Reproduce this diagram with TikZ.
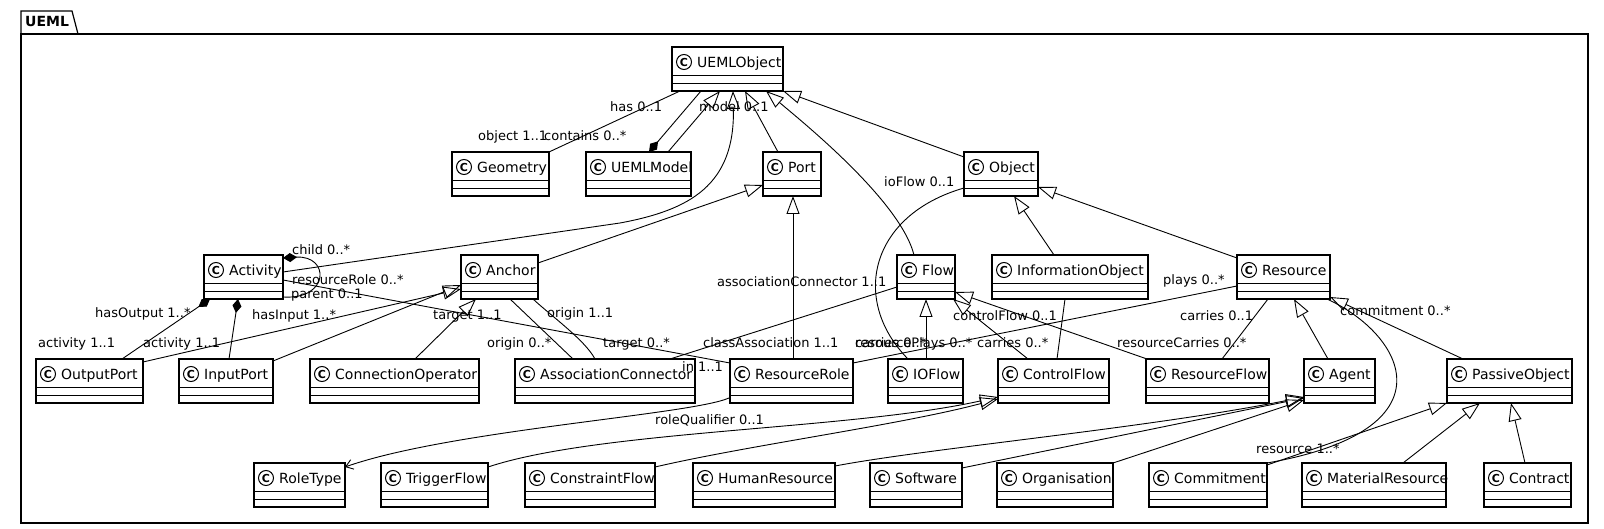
\documentclass[tikz,border=0pt]{standalone}
\usepackage{fontspec}
\setmainfont{DejaVu Sans}
\usetikzlibrary{arrows.meta,calc}
\newcommand{\umlclass}[5]{%
  \node[clsbox, minimum width={(#4-#2)*1pt}] (#1) at (#2,#3) {};
  \draw[clsline] ($(#1.north west)+(0,28.5)$) -- ($(#1.north east)+(0,28.5)$);
  \draw[clsline] ($(#1.north west)+(0,36.5)$) -- ($(#1.north east)+(0,36.5)$);
  \node[spot] (#1-spot) at ($(#1.north west)+(12,15)$) {C};
  \node[clsname] (#1-name) at ($(#1.north west)+(25,20.5)$) {#5};
}
\begin{document}
\begin{tikzpicture}[x=1pt,y=-1pt,
  clsbox/.style={draw, line width=1.2pt, minimum height=44pt, inner sep=0pt, outer sep=0pt, anchor=north west, fill=white},
  clsline/.style={line width=1.2pt},
  spot/.style={circle, draw, fill=white, line width=1pt, minimum size=15pt, inner sep=0pt, font=\fontsize{11}{11}\selectfont\bfseries},
  clsname/.style={anchor=base west, inner sep=0pt, font=\fontsize{14}{16}\selectfont},
  lbl/.style={anchor=base west, inner sep=0pt, font=\fontsize{13}{15}\selectfont},
  conn/.style={line width=0.9pt},
  assoc/.style={conn},
  gen/.style={conn, -{Triangle[open,length=18pt,width=13pt]}},
  comp/.style={conn, {Diamond[length=14pt,width=9pt]}-},
  nav/.style={conn, -{Straight Barb[length=7pt,width=10pt]}}
]
\fill[white] (0,0) rectangle (1604,529);
\useasboundingbox (0,0) rectangle (1604,529);
% package frame
\draw[line width=1.2pt] (21,34) rectangle (1588,523);
\draw[line width=1.2pt] (21,34) -- (21,11) -- (72,11) -- (78,34);
\node[anchor=base west, inner sep=0pt, font=\fontsize{14}{16}\selectfont\bfseries] (pkg) at (25,27) {UEML};

% classes
\umlclass{UEMLObject}{672}{47}{783}{UEMLObject}
\umlclass{Geometry}{452}{152}{549}{Geometry}
\umlclass{UEMLModel}{586}{152}{691}{UEMLModel}
\umlclass{Port}{763}{152}{821}{Port}
\umlclass{Object}{964}{152}{1038}{Object}
\umlclass{Activity}{204}{255}{283}{Activity}
\umlclass{Anchor}{461}{255}{538}{Anchor}
\umlclass{Flow}{897}{255}{955}{Flow}
\umlclass{InformationObject}{992}{255}{1148}{InformationObject}
\umlclass{Resource}{1237}{255}{1330}{Resource}
\umlclass{OutputPort}{36}{359}{143}{OutputPort}
\umlclass{InputPort}{179}{359}{273}{InputPort}
\umlclass{ConnectionOperator}{310}{359}{479}{ConnectionOperator}
\umlclass{AssociationConnector}{515}{359}{695}{AssociationConnector}
\umlclass{ResourceRole}{730}{359}{853}{ResourceRole}
\umlclass{IOFlow}{888}{359}{963}{IOFlow}
\umlclass{ControlFlow}{998}{359}{1109}{ControlFlow}
\umlclass{ResourceFlow}{1146}{359}{1269}{ResourceFlow}
\umlclass{Agent}{1304}{359}{1375}{Agent}
\umlclass{PassiveObject}{1447}{359}{1572}{PassiveObject}
\umlclass{RoleType}{254}{463}{345}{RoleType}
\umlclass{TriggerFlow}{381}{463}{488}{TriggerFlow}
\umlclass{ConstraintFlow}{525}{463}{655}{ConstraintFlow}
\umlclass{HumanResource}{693}{463}{835}{HumanResource}
\umlclass{Software}{870}{463}{962}{Software}
\umlclass{Organisation}{997}{463}{1113}{Organisation}
\umlclass{Commitment}{1149}{463}{1267}{Commitment}
\umlclass{MaterialResource}{1302}{463}{1446}{MaterialResource}
\umlclass{Contract}{1484}{463}{1571}{Contract}

% connectors
\draw[assoc] ($(UEMLObject.south west)+(8,0)$) -- (Geometry.north east);
\draw[comp] ($(UEMLModel.north west)+(63,0)$) -- ($(UEMLObject.south west)+(29,0)$);
\draw[gen] ($(UEMLModel.north west)+(82,0)$) -- ($(UEMLObject.south west)+(48,0)$);
\draw[gen] ($(Activity.north east)+(0,17)$) -- (620,223) .. controls (690,210) and (735,185) .. ($(UEMLObject.south west)+(61,0)$);
\draw[gen] ($(Port.north west)+(15,0)$) -- ($(UEMLObject.south west)+(73,0)$);
\draw[gen] ($(Flow.north west)+(17,0)$) .. controls (900,200) and (800,120) .. ($(UEMLObject.south west)+(94,0)$);
\draw[gen] ($(Object.north west)+(0,5)$) -- (UEMLObject.south east);
\draw[gen] ($(Anchor.north east)+(0,8)$) -- ($(Port.north west)+(0,33)$);
\draw[gen] ($(ResourceRole.north west)+(63,0)$) -- ($(Port.south west)+(30,0)$);
\draw[assoc] ($(Flow.north west)+(0,32)$) -- ($(AssociationConnector.north west)+(155,0)$);
\draw[assoc] ($(Activity.north east)+(0,25)$) -- ($(ResourceRole.north west)+(0,4)$);
\draw[comp] ($(Activity.north east)+(0,3)$) .. controls (330,255) and (330,300) .. ($(Activity.south east)+(0,-2)$);
\draw[comp] ($(Activity.south west)+(6,0)$) -- ($(OutputPort.north west)+(86,0)$);
\draw[comp] ($(Activity.south west)+(34,0)$) -- ($(InputPort.north west)+(50,0)$);
\draw[gen] ($(OutputPort.north east)+(0,3)$) -- ($(Anchor.north west)+(0,34)$);
\draw[gen] ($(InputPort.north east)+(0,2)$) -- ($(Anchor.north west)+(0,30)$);
\draw[gen] ($(ConnectionOperator.north west)+(105,0)$) -- ($(Anchor.south west)+(15,0)$);
\draw[assoc] ($(Anchor.south west)+(49,0)$) -- ($(AssociationConnector.north west)+(58,0)$);
\draw[assoc] ($(Anchor.south west)+(72,0)$) .. controls (550,315) and (585,340) .. ($(AssociationConnector.north west)+(80,0)$);
\draw[assoc] ($(Object.north west)+(0,36)$) .. controls (870,215) and (850,300) .. ($(IOFlow.north west)+(20,0)$);
\draw[assoc] ($(Resource.north west)+(0,31)$) -- ($(ResourceRole.north east)+(0,4)$);
\draw[gen] ($(IOFlow.north west)+(38,0)$) -- ($(Flow.south west)+(29,0)$);
\draw[gen] ($(ControlFlow.north west)+(30,0)$) -- ($(Flow.south east)+(-2,0)$);
\draw[gen] ($(ResourceFlow.north west)+(1,0)$) -- ($(Flow.north east)+(0,37)$);
\draw[assoc] ($(InformationObject.south west)+(73,0)$) -- ($(ControlFlow.north west)+(59,0)$);
\draw[gen] ($(InformationObject.north west)+(62,0)$) -- ($(Object.south west)+(50,0)$);
\draw[gen] ($(Resource.north west)+(0,3)$) -- ($(Object.north east)+(0,35)$);
\draw[assoc] ($(Resource.south west)+(31,0)$) -- ($(ResourceFlow.north west)+(76,0)$);
\draw[gen] ($(Agent.north west)+(24,0)$) -- ($(Resource.south west)+(57,0)$);
\draw[gen] ($(PassiveObject.north west)+(16,0)$) -- ($(Resource.south east)+(0,-2)$);
\draw[assoc] ($(Resource.south east)+(-3,0)$) .. controls (1405,335) and (1455,430) .. (Commitment.north east);
\draw[gen] ($(Commitment.north east)+(0,2)$) -- (PassiveObject.south west);
\draw[gen] ($(MaterialResource.north west)+(101,0)$) -- ($(PassiveObject.south west)+(33,0)$);
\draw[gen] ($(Contract.north west)+(41,0)$) -- ($(PassiveObject.south west)+(64,0)$);
\draw[gen] ($(TriggerFlow.north east)+(0,4)$) .. controls (600,430) and (850,430) .. ($(ControlFlow.south west)+(0,-6)$);
\draw[gen] ($(ConstraintFlow.north east)+(0,4)$) .. controls (750,445) and (900,425) .. ($(ControlFlow.south west)+(0,-4)$);
\draw[gen] ($(HumanResource.north east)+(0,3)$) .. controls (930,448) and (1150,428) .. ($(Agent.south west)+(0,-6)$);
\draw[gen] ($(Software.north east)+(0,5)$) -- ($(Agent.south west)+(0,-5)$);
\draw[gen] (Organisation.north east) -- ($(Agent.south west)+(0,-3)$);
\draw[nav] ($(ResourceRole.south west)+(-1,-5)$) .. controls (690,415) and (450,430) .. ($(RoleType.north east)+(0,4)$);

% labels
\node[lbl] (l-has) at (610,111.5) {has 0..1};
\node[lbl] (l-model) at (699,111.5) {model 0..1};
\node[lbl] (l-object) at (478,140.5) {object 1..1};
\node[lbl] (l-contains) at (544,140.5) {contains 0..*};
\node[lbl] (l-ioflow) at (884,186.5) {ioFlow 0..1};
\node[lbl] (l-child) at (292,254.5) {child 0..*};
\node[lbl] (l-resrole) at (292,284.5) {resourceRole 0..*};
\node[lbl] (l-parent) at (291,298.5) {parent 0..1};
\node[lbl] (l-assocconn) at (717,286.5) {associationConnector 1..1};
\node[lbl] (l-plays) at (1163,284.5) {plays 0..*};
\node[lbl] (l-hasout) at (95,317.5) {hasOutput 1..*};
\node[lbl] (l-hasin) at (252,319.5) {hasInput 1..*};
\node[lbl] (l-target11) at (433,319.5) {target 1..1};
\node[lbl] (l-origin11) at (547,317.5) {origin 1..1};
\node[lbl] (l-controlflow) at (953,320.5) {controlFlow 0..1};
\node[lbl] (l-carries01) at (1180,320.5) {carries 0..1};
\node[lbl] (l-commitment) at (1340,315.5) {commitment 0..*};
\node[lbl] (l-act1) at (38,347.5) {activity 1..1};
\node[lbl] (l-act2) at (143,347.5) {activity 1..1};
\node[lbl] (l-origin0) at (487,347.5) {origin 0..*};
\node[lbl] (l-target0) at (603,347.5) {target 0..*};
\node[lbl] (l-classassoc) at (703,347.5) {classAssociation 1..1};
\node[lbl] (l-carries1) at (855,347.5) {carries 0..*};
\node[lbl] (l-resplays) at (855,347.5) {resourcePlays 0..*};
\node[lbl] (l-carries2) at (977,347.5) {carries 0..*};
\node[lbl] (l-rescarries) at (1117,347.5) {resourceCarries 0..*};
\node[lbl] (l-in) at (682,371.5) {in 1..1};
\node[lbl] (l-rolequal) at (655,424.5) {roleQualifier 0..1};
\node[lbl] (l-resource) at (1256,453.5) {resource 1..*};
\end{tikzpicture}
\end{document}
